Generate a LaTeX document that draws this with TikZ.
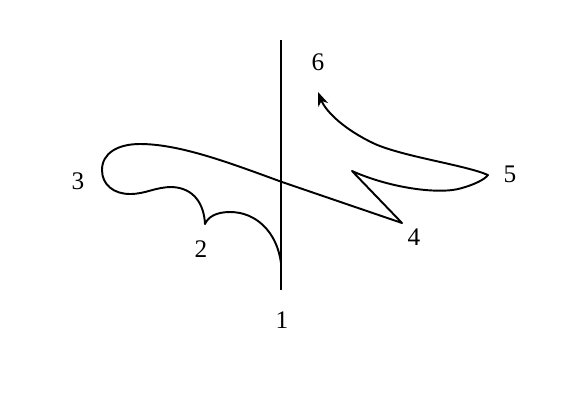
\documentclass[tikz,border=0pt]{standalone}
\usepackage{fontspec}
\setmainfont{Liberation Serif}
\usetikzlibrary{arrows.meta}
\begin{document}
\begin{tikzpicture}[x = 0.02cm, y = -0.02cm]
\useasboundingbox (0,0) rectangle (578,414);
\tikzset{stroke/.style = {line width = 1.1pt, line join = round},
         num/.style = {font = \Large}}
% axis
\draw[line width = 1.5pt] (281,40) -- (281,290);
% turning points
\coordinate (p1) at (281,263);
\coordinate (p2) at (205,224);
\coordinate (p4) at (402,223);
\coordinate (p5) at (488,175);
\coordinate (p6) at (318,92);
\coordinate (back) at (352,171);
% path
\draw[stroke, -{Stealth[length = 8pt, width = 6pt]}]
  (p1) .. controls (277,232) and (256,212) .. (230,212)
       .. controls (216,212) and (208,217) .. (p2)
       .. controls (204,204) and (194,188) .. (172,187)
       .. controls (155,187) and (146,194) .. (130,194)
       .. controls (114,194) and (102,185) .. (102,170)
       .. controls (102,153) and (118,144) .. (140,144)
       .. controls (180,144) and (230,163) .. (282,182)
       -- (p4) -- (back)
       .. controls (390,188) and (440,195) .. (462,188)
       .. controls (476,184) and (485,179) .. (p5)
       .. controls (465,165) and (405,157) .. (375,144)
       .. controls (345,130) and (326,112) .. (p6);
% labels
\foreach \n/\x/\y in {1/282/320, 2/201/249, 3/78/181, 4/414/237, 5/510/174, 6/318/62}
{
  \node[num] (l\n) at (\x,\y) {\n};
}
\end{tikzpicture}
\end{document}
